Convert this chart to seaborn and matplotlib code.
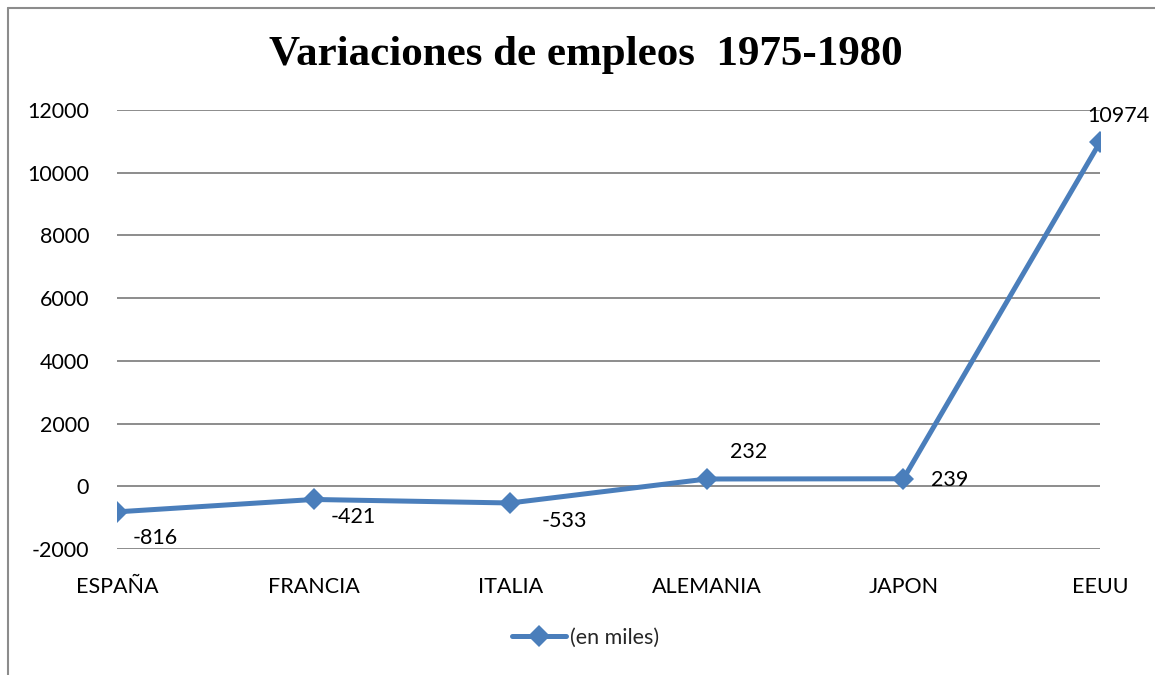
import pandas as pd
import matplotlib.pyplot as plt
import seaborn as sns
from matplotlib.lines import Line2D

paises = ['ESPAÑA', 'FRANCIA', 'ITALIA', 'ALEMANIA', 'JAPON', 'EEUU']
empleos = [-816, -421, -533, 232, 239, 10974]
serie = '(en miles)'
yticks = [-2000, 0, 2000, 4000, 6000, 8000, 10000, 12000]

df = pd.DataFrame({'pais': paises, 'valor': empleos})
df['x'] = range(len(paises))

azul = '#4A7EBB'
sns.set_style('white')
plt.rcParams['font.family'] = ['Lato', 'DejaVu Sans']
plt.rcParams['axes.unicode_minus'] = False

fig = plt.figure(figsize=(11.55, 6.75), dpi=100)
ax = fig.add_axes([0.1013, 0.1867, 0.8511, 0.6503])

sns.lineplot(data=df, x='x', y='valor', ax=ax, color=azul, linewidth=3.6,
             marker='D', markersize=11, markeredgewidth=0, label=serie)

# etiquetas de datos (desplazamientos en pixeles)
offsets = [(38, -26), (40, -18), (54, -18), (42, 27), (46, -1), (18, 26)]
for i, v in enumerate(empleos):
    dx, dy = offsets[i]
    ax.annotate(str(v), (i, v), xytext=(dx, dy), textcoords='offset pixels',
                ha='center', va='center', fontsize=15.5, color='black')

ax.set_xlim(0, len(paises) - 1)
ax.set_ylim(-2000, 12000)
ax.set_yticks(yticks)
ax.set_xticks(range(len(paises)))
ax.set_xticklabels(paises)
ax.tick_params(axis='both', labelsize=15.5, length=0, colors='black')
ax.tick_params(axis='y', pad=20)
ax.tick_params(axis='x', pad=20)
ax.grid(axis='y', color='#8C8C8C', linewidth=1.4)
ax.set_axisbelow(True)
for s in ax.spines.values():
    s.set_visible(False)
ax.set_xlabel('')
ax.set_ylabel('')

ax.legend_.remove()
h = Line2D([], [], color=azul, linewidth=3.6, marker='D', markersize=11, markeredgewidth=0)
fig.legend([h], [serie], loc='center', bbox_to_anchor=(0.507, 0.055), frameon=False,
           fontsize=15.5, handlelength=2.5, handletextpad=0.2)

fig.text(0.507, 0.919, 'Variaciones de empleos  1975-1980', ha='center', va='center',
         fontsize=31, fontweight='bold', color='black',
         family=['Liberation Serif', 'DejaVu Serif'])

# marco del grafico (solo arriba e izquierda visibles)
fig.add_artist(Line2D([8 / 1155, 8 / 1155], [1 - 8 / 675, 0], transform=fig.transFigure,
                      color='#8C8C8C', linewidth=1.5))
fig.add_artist(Line2D([8 / 1155, 1], [1 - 8 / 675, 1 - 8 / 675], transform=fig.transFigure,
                      color='#8C8C8C', linewidth=1.5))

fig.savefig('out.png', dpi=100)
